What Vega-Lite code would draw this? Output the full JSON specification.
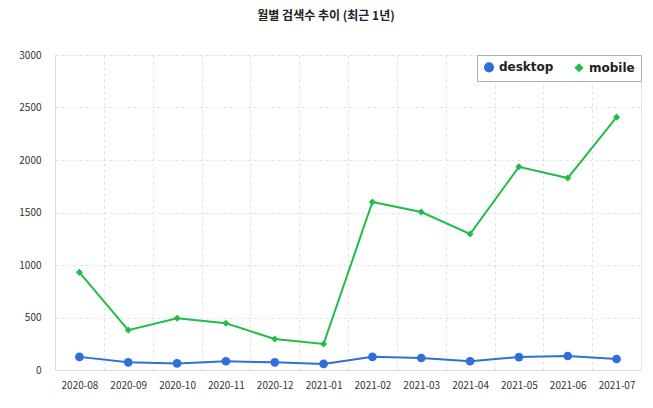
{
  "$schema": "https://vega.github.io/schema/vega-lite/v6.json",
  "width": 586,
  "height": 315,
  "autosize": "none",
  "padding": {"left": 55, "top": 55, "right": 12, "bottom": 38},
  "background": "white",
  "title": {
    "text": "월별 검색수 추이 (최근 1년)",
    "font": "Noto Sans CJK KR",
    "fontSize": 12,
    "fontWeight": "bold",
    "color": "#222",
    "anchor": "middle",
    "dx": -22,
    "offset": 27
  },
  "config": {
    "view": {"stroke": "#dcdcdc", "strokeDash": [3, 3]},
    "axis": {
      "labelFont": "Noto Sans CJK KR",
      "labelFontSize": 10,
      "labelColor": "#333",
      "gridColor": "#e2e2e2",
      "gridDash": [3, 3],
      "domainColor": "#dcdcdc",
      "ticks": false,
      "title": null
    }
  },
  "data": {
    "values": [
      {"month": "2020-08", "device": "desktop", "count": 125},
      {"month": "2020-09", "device": "desktop", "count": 73},
      {"month": "2020-10", "device": "desktop", "count": 63},
      {"month": "2020-11", "device": "desktop", "count": 83},
      {"month": "2020-12", "device": "desktop", "count": 73},
      {"month": "2021-01", "device": "desktop", "count": 58},
      {"month": "2021-02", "device": "desktop", "count": 125},
      {"month": "2021-03", "device": "desktop", "count": 114},
      {"month": "2021-04", "device": "desktop", "count": 83},
      {"month": "2021-05", "device": "desktop", "count": 123},
      {"month": "2021-06", "device": "desktop", "count": 133},
      {"month": "2021-07", "device": "desktop", "count": 105},
      {"month": "2020-08", "device": "mobile", "count": 930},
      {"month": "2020-09", "device": "mobile", "count": 380},
      {"month": "2020-10", "device": "mobile", "count": 493},
      {"month": "2020-11", "device": "mobile", "count": 445},
      {"month": "2020-12", "device": "mobile", "count": 295},
      {"month": "2021-01", "device": "mobile", "count": 248},
      {"month": "2021-02", "device": "mobile", "count": 1600},
      {"month": "2021-03", "device": "mobile", "count": 1505},
      {"month": "2021-04", "device": "mobile", "count": 1295},
      {"month": "2021-05", "device": "mobile", "count": 1935},
      {"month": "2021-06", "device": "mobile", "count": 1828},
      {"month": "2021-07", "device": "mobile", "count": 2408}
    ]
  },
  "encoding": {
    "x": {
      "field": "month",
      "type": "ordinal",
      "scale": {"type": "band", "paddingInner": 0, "paddingOuter": 0},
      "axis": {"labelAngle": 0, "grid": true, "tickBand": "extent", "labelPadding": 10}
    },
    "y": {
      "field": "count",
      "type": "quantitative",
      "scale": {"domain": [0, 3000]},
      "axis": {"values": [0, 500, 1000, 1500, 2000, 2500, 3000], "labelPadding": 14, "format": "d"}
    },
    "color": {
      "field": "device",
      "type": "nominal",
      "scale": {"domain": ["desktop", "mobile"], "range": ["#2f6fd9", "#1ebe48"]},
      "legend": {
        "title": null,
        "orient": "top-right",
        "direction": "horizontal",
        "offset": 0,
        "strokeColor": "#b0b0b0",
        "fillColor": "white",
        "padding": 6,
        "labelFont": "DejaVu Sans",
        "labelFontSize": 12,
        "labelFontWeight": "bold",
        "labelColor": "#222",
        "symbolSize": 50,
        "columnPadding": 18
      }
    }
  },
  "layer": [
    {"mark": {"type": "line", "strokeWidth": 2}},
    {
      "mark": {"type": "point", "filled": true, "opacity": 1},
      "encoding": {
        "shape": {
          "field": "device",
          "type": "nominal",
          "scale": {"domain": ["desktop", "mobile"], "range": ["circle", "diamond"]},
          "legend": null
        },
        "size": {
          "field": "device",
          "type": "nominal",
          "scale": {"domain": ["desktop", "mobile"], "range": [75, 50]},
          "legend": null
        }
      }
    }
  ]
}
